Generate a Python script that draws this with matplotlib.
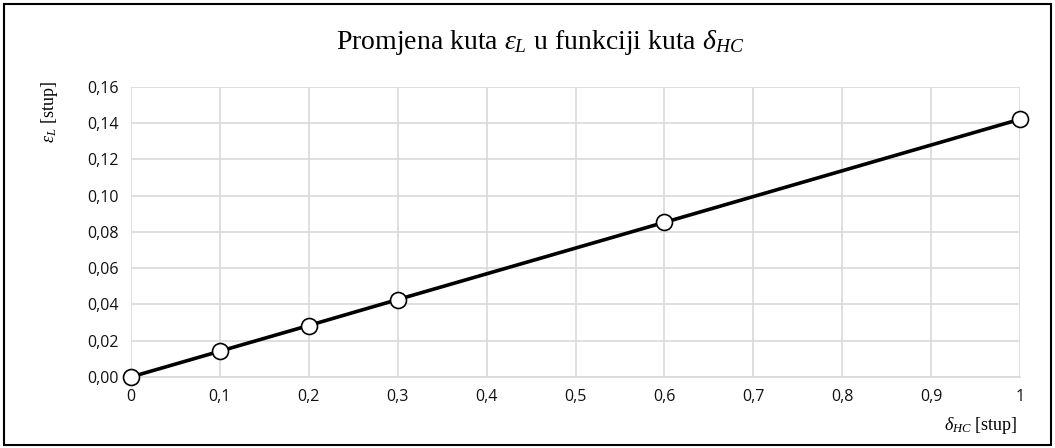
import matplotlib.pyplot as plt
from matplotlib.patches import Rectangle
from matplotlib.ticker import FuncFormatter, MultipleLocator

# data
delta_hc = [0, 0.1, 0.2, 0.3, 0.6, 1.0]
eps_l = [0.0, 0.0142, 0.0284, 0.0427, 0.0853, 0.1422]

plt.rcParams['mathtext.fontset'] = 'custom'
plt.rcParams['mathtext.rm'] = 'Liberation Serif'
plt.rcParams['mathtext.it'] = 'Liberation Serif:italic'

fig = plt.figure(figsize=(10.55, 4.48), dpi=100)
ax = fig.add_axes([0.124, 0.1585, 0.843, 0.6475])

grid_col = '#d9d9d9'
ax.plot(delta_hc, eps_l, color='black', lw=2.6, marker='o', markersize=11.5,
        markerfacecolor='white', markeredgecolor='black', markeredgewidth=1.2,
        clip_on=False, zorder=3)

ax.set_xlim(0, 1)
ax.set_ylim(0, 0.16)
ax.xaxis.set_major_locator(MultipleLocator(0.1))
ax.yaxis.set_major_locator(MultipleLocator(0.02))

def comma(v, dec):
    return f'{v:.{dec}f}'.replace('.', ',')

ax.xaxis.set_major_formatter(FuncFormatter(
    lambda v, p: '0' if abs(v) < 1e-9 else ('1' if abs(v - 1) < 1e-9 else comma(v, 1))))
ax.yaxis.set_major_formatter(FuncFormatter(lambda v, p: comma(v, 2)))

ax.grid(True, color=grid_col, lw=1.2)
ax.set_axisbelow(True)
for s in ['top', 'right', 'left']:
    ax.spines[s].set_visible(False)
ax.spines['bottom'].set_color(grid_col)
ax.spines['bottom'].set_linewidth(1.2)
ax.tick_params(length=0, labelsize=11.5, colors='#111111', pad=9)
for lab in ax.get_xticklabels() + ax.get_yticklabels():
    lab.set_fontfamily('Open Sans')

fig.text(0.512, 0.905, r'Promjena kuta $\mathit{\varepsilon}_{L}$ u funkciji kuta $\mathit{\delta}_{HC}$',
         ha='center', va='center', fontsize=20, family='Liberation Serif')
fig.text(0.047, 0.75, r'$\mathit{\varepsilon}_{L}$ [stup]', rotation=90,
         ha='center', va='center', fontsize=13, family='Liberation Serif')
fig.text(0.93, 0.05, r'$\mathit{\delta}_{HC}$ [stup]',
         ha='center', va='center', fontsize=13, family='Liberation Serif')

fig.patches.append(Rectangle((0.004, 0.007), 0.992, 0.985, transform=fig.transFigure,
                             fill=False, edgecolor='black', lw=1.5))

fig.savefig('out.png', dpi=100)
